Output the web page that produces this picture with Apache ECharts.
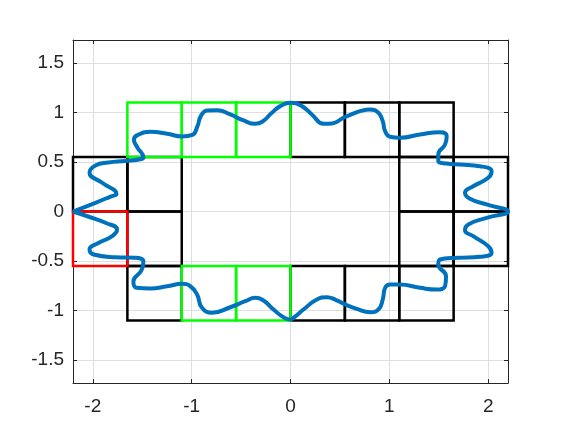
<!DOCTYPE html>
<html><head><meta charset="utf-8">
<script src="https://cdn.jsdelivr.net/npm/echarts@6/dist/echarts.min.js"></script>
<style>html,body{margin:0;padding:0;background:#fff}#c{width:561px;height:439px}</style>
</head><body><div id="c"></div>
<script>
const xLimits = [-2.2, 2.2];
const yLimits = [-1.73, 1.73];
// cells: [xmin, ymin, xmax, ymax]
const blackCells = [
  [0,0.55,0.55,1.1],[0.55,0.55,1.1,1.1],[1.1,0.55,1.65,1.1],
  [-2.2,0,-1.65,0.55],[-1.65,0,-1.1,0.55],[1.1,0,1.65,0.55],[1.65,0,2.2,0.55],
  [-1.65,-0.55,-1.1,0],[1.1,-0.55,1.65,0],[1.65,-0.55,2.2,0],
  [-1.65,-1.1,-1.1,-0.55],[0,-1.1,0.55,-0.55],[0.55,-1.1,1.1,-0.55],[1.1,-1.1,1.65,-0.55]
];
const greenCells = [
  [-1.65,0.55,-1.1,1.1],[-1.1,0.55,-0.55,1.1],[-0.55,0.55,0,1.1],
  [-1.1,-1.1,-0.55,-0.55],[-0.55,-1.1,0,-0.55]
];
const redCells = [[-2.2,-0.55,-1.65,0]];
const curveX = [-2.2,-1.973,-1.82,-1.76,-1.905,-2.033,-1.973,-1.842,-1.67,-1.508,-1.488,-1.549,-1.584,-1.535,-1.415,-1.248,-1.097,-0.993,-0.942,-0.907,-0.844,-0.743,-0.609,-0.475,-0.357,-0.286,-0.188,-0.104,0,
0.115,0.216,0.333,0.421,0.535,0.603,0.704,0.805,0.889,0.933,0.957,1.007,1.108,1.31,1.512,1.58,1.563,1.495,1.495,1.58,1.714,1.916,2.034,2.0,1.848,1.765,1.815,1.984,2.2,
1.984,1.798,1.765,1.848,2.0,2.034,1.916,1.694,1.512,1.495,1.573,1.563,1.479,1.31,1.108,1.007,0.957,0.933,0.889,0.805,0.671,0.553,0.462,0.368,0.267,0.131,0.03,0,
-0.071,-0.172,-0.273,-0.357,-0.458,-0.609,-0.794,-0.895,-0.945,-1.013,-1.097,-1.248,-1.417,-1.558,-1.589,-1.508,-1.488,-1.569,-1.771,-1.99,-2.033,-1.939,-1.804,-1.754,-1.872,-2.04,-2.2];
const curveY = [0,0.088,0.151,0.177,0.29,0.39,0.464,0.494,0.51,0.53,0.545,0.646,0.727,0.777,0.804,0.784,0.757,0.772,0.858,0.962,1.019,1.022,0.979,0.918,0.885,0.905,0.996,1.063,1.097,
1.063,0.979,0.885,0.888,0.946,0.974,1.012,1.029,0.996,0.911,0.810,0.754,0.744,0.777,0.800,0.760,0.676,0.575,0.508,0.484,0.474,0.457,0.407,0.34,0.255,0.189,0.128,0.071,0,
-0.064,-0.131,-0.189,-0.249,-0.35,-0.417,-0.457,-0.467,-0.484,-0.535,-0.653,-0.754,-0.787,-0.770,-0.737,-0.737,-0.770,-0.888,-0.989,-1.016,-0.982,-0.938,-0.893,-0.865,-0.888,-0.989,-1.073,-1.09,
-1.067,-0.989,-0.898,-0.871,-0.905,-0.966,-1.022,-0.972,-0.838,-0.754,-0.730,-0.754,-0.777,-0.77,-0.706,-0.595,-0.505,-0.467,-0.461,-0.434,-0.383,-0.316,-0.249,-0.182,-0.114,-0.053,0];

const AX = '#262626';
const FONT = "'Liberation Sans', Arial, Helvetica, sans-serif";
function fmt(v){ const r = Math.round(v*2)/2; return Math.abs(v-r) < 1e-9 ? String(r) : ''; }
function mkAxis(lim, split, pos, showLabel, showGrid, margin){
  return {
    type:'value', min:lim[0], max:lim[1], splitNumber:split, position:pos, scale:true,
    axisLine:{show:true, onZero:false, lineStyle:{color:AX, width:1}},
    axisTick:{show:true, inside:true, length:4, lineStyle:{color:AX, width:1}},
    axisLabel:{show:showLabel, color:AX, fontSize:19, fontFamily:FONT, margin:margin,
      showMinLabel:false, showMaxLabel:false, formatter:fmt},
    splitLine:{show:showGrid, lineStyle:{color:'#dedede', width:1}}
  };
}
function rectSeries(cells, color){
  return {
    type:'custom', data:cells, clip:false, silent:true,
    encode:{x:[0,2], y:[1,3]},
    renderItem:function(params, api){
      const p0 = api.coord([api.value(0), api.value(3)]);
      const p1 = api.coord([api.value(2), api.value(1)]);
      return {type:'rect', shape:{x:p0[0], y:p0[1], width:p1[0]-p0[0], height:p1[1]-p0[1]},
        style:{fill:'transparent', stroke:color, lineWidth:2.5}};
    }
  };
}
const chart = echarts.init(document.getElementById('c'), null, {renderer:'canvas'});
chart.setOption({
  animation:false,
  backgroundColor:'#ffffff',
  grid:{left:73, right:53, top:40, bottom:56, containLabel:false},
  xAxis:[mkAxis(xLimits,4,'bottom',true,true,14), mkAxis(xLimits,4,'top',false,false,8)],
  yAxis:[mkAxis(yLimits,7,'left',true,true,9), mkAxis(yLimits,7,'right',false,false,8)],
  series:[
    rectSeries(blackCells,'#000000'),
    rectSeries(greenCells,'#00ff00'),
    rectSeries(redCells,'#ff0000'),
    {type:'line', data:curveX.map((x,i)=>[x,curveY[i]]), smooth:0.5, showSymbol:false,
     clip:false, silent:true, lineStyle:{color:'#0072BD', width:4}}
  ]
});
</script></body></html>
